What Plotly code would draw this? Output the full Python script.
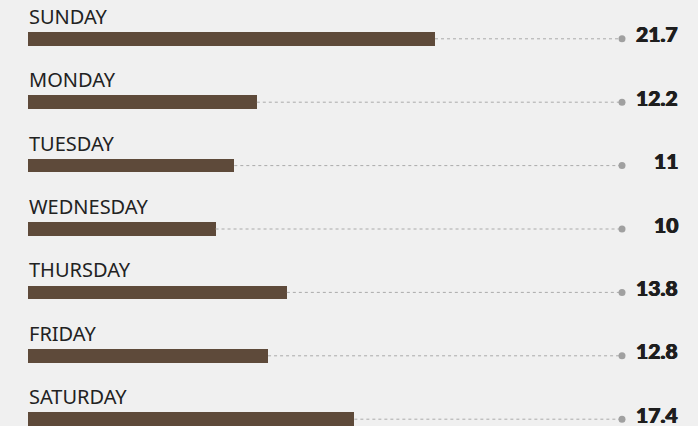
import plotly.graph_objects as go

days = ["SUNDAY", "MONDAY", "TUESDAY", "WEDNESDAY", "THURSDAY", "FRIDAY", "SATURDAY"]
values = [21.7, 12.2, 11, 10, 13.8, 12.8, 17.4]
value_labels = ["21.7", "12.2", "11", "10", "13.8", "12.8", "17.4"]

W, H = 698, 426
LEFT = 28
PX_PER_UNIT = (435 - 28) / 21.7
ROW0 = 38.8
ROW_STEP = 63.4
X_MAX = (W - LEFT) / PX_PER_UNIT
DOT_X = (622 - LEFT) / PX_PER_UNIT
LABEL_X = (680 - LEFT) / PX_PER_UNIT
BAR_H = 13.6 / ROW_STEP
LINE_OFF = 0

ys = list(range(len(days)))
fig = go.Figure()
fig.add_trace(go.Bar(
    x=values, y=ys, orientation="h", width=BAR_H,
    marker=dict(color="#5e4a3a", line=dict(width=0)), hoverinfo="skip"))
for i, v in enumerate(values):
    fig.add_trace(go.Scatter(
        x=[v, DOT_X], y=[i + LINE_OFF] * 2, mode="lines",
        line=dict(color="#aaaaaa", width=1, dash="dot"), hoverinfo="skip"))
fig.add_trace(go.Scatter(
    x=[DOT_X] * len(values), y=[i + LINE_OFF for i in ys], mode="markers",
    marker=dict(color="#a0a0a0", size=7), hoverinfo="skip"))

for i, (d, lab) in enumerate(zip(days, value_labels)):
    fig.add_annotation(x=0, y=i - 0.111, text=d, showarrow=False, xshift=-1,
                       xanchor="left", yanchor="bottom", xref="x", yref="y",
                       font=dict(family="Noto Sans", size=20, color="#222222"))
    fig.add_annotation(x=LABEL_X, y=i + LINE_OFF, text=lab, showarrow=False, yshift=5,
                       xanchor="right", yanchor="middle", xref="x", yref="y",
                       font=dict(family="Lato", size=21, color="#1e1e1e", weight=900,
                                 shadow="0.6px 0 0 #1e1e1e, -0.4px 0 0 #1e1e1e"))

fig.update_layout(
    width=W, height=H, margin=dict(l=LEFT, r=0, t=0, b=0),
    paper_bgcolor="#f0f0f0", plot_bgcolor="#f0f0f0", showlegend=False,
    xaxis=dict(range=[0, X_MAX], visible=False, fixedrange=True),
    yaxis=dict(range=[(H - ROW0) / ROW_STEP, -ROW0 / ROW_STEP], visible=False, fixedrange=True),
    bargap=0)
fig.write_html("out.html", config={"displayModeBar": False},
               post_script="document.body.style.margin='0';document.body.style.background='#f0f0f0';")
